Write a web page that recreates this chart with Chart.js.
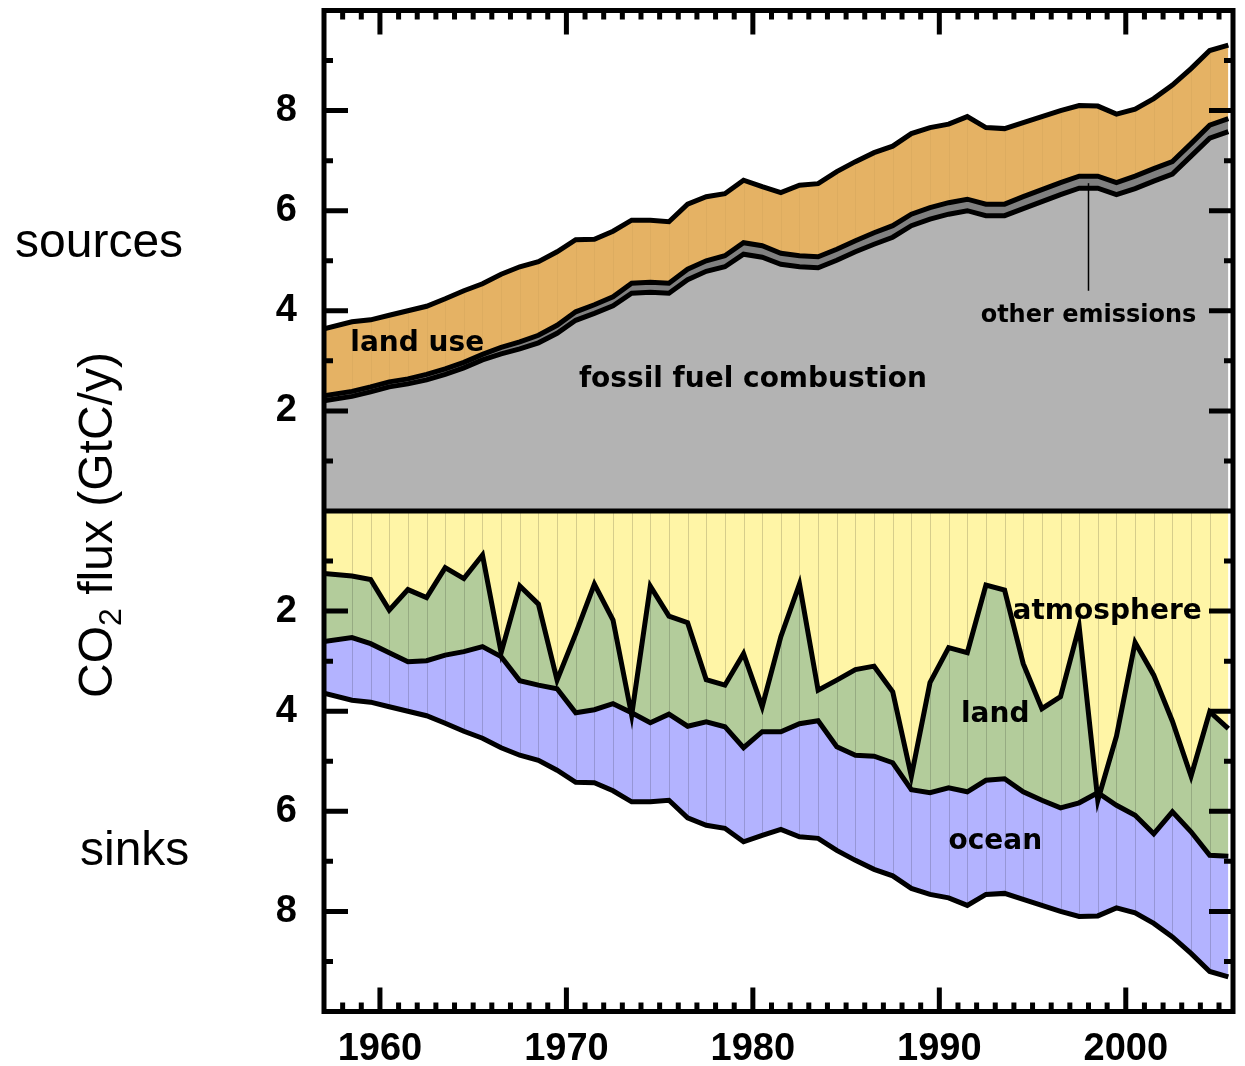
<!DOCTYPE html>
<html>
<head>
<meta charset="utf-8">
<script src="https://cdn.jsdelivr.net/npm/chart.js@4.4.1/dist/chart.umd.min.js"></script>
<style>
  html, body { margin: 0; padding: 0; background: #fff; }
  #wrap { width: 1245px; height: 1066px; }
</style>
</head>
<body>
<div id="wrap"><canvas id="flux"></canvas></div>
<script>
// Annual global CO2 budget, GtC per year
const years = [1957,1958,1959,1960,1961,1962,1963,1964,1965,1966,1967,1968,1969,1970,1971,1972,1973,1974,1975,1976,1977,1978,1979,1980,1981,1982,1983,1984,1985,1986,1987,1988,1989,1990,1991,1992,1993,1994,1995,1996,1997,1998,1999,2000,2001,2002,2003,2004,2005];

// sources
const fossilFuel = [2.20,2.29,2.38,2.48,2.54,2.62,2.73,2.86,3.02,3.14,3.24,3.36,3.55,3.81,3.95,4.10,4.35,4.37,4.35,4.62,4.79,4.88,5.13,5.07,4.93,4.88,4.86,5.01,5.18,5.33,5.47,5.70,5.83,5.93,6.00,5.90,5.90,6.04,6.18,6.32,6.45,6.45,6.32,6.44,6.59,6.73,7.09,7.45,7.58];
const otherEmissions = [0.10,0.10,0.10,0.10,0.10,0.11,0.11,0.11,0.11,0.13,0.14,0.15,0.16,0.17,0.17,0.18,0.20,0.20,0.20,0.21,0.21,0.22,0.23,0.23,0.22,0.22,0.22,0.22,0.22,0.23,0.23,0.23,0.23,0.23,0.23,0.23,0.23,0.24,0.24,0.24,0.24,0.24,0.24,0.25,0.25,0.25,0.25,0.26,0.26];
const landUse = [1.34,1.39,1.34,1.33,1.36,1.36,1.40,1.43,1.41,1.46,1.50,1.47,1.47,1.44,1.31,1.31,1.26,1.24,1.23,1.30,1.28,1.24,1.25,1.18,1.21,1.41,1.46,1.55,1.58,1.60,1.59,1.61,1.60,1.57,1.65,1.53,1.51,1.48,1.46,1.44,1.41,1.40,1.37,1.34,1.40,1.53,1.50,1.49,1.47];

// sinks
const atmosphere = [1.25,1.30,1.37,1.98,1.57,1.73,1.13,1.35,0.88,2.83,1.50,1.86,3.38,2.45,1.46,2.18,4.08,1.50,2.10,2.23,3.37,3.48,2.85,3.91,2.51,1.46,3.58,3.38,3.17,3.10,3.61,5.30,3.43,2.73,2.83,1.48,1.58,3.05,3.95,3.71,2.31,5.78,4.50,2.63,3.28,4.20,5.30,4.01,4.35];
const landSink = [1.36,1.23,1.28,0.85,1.44,1.26,1.75,1.46,1.83,0.08,1.89,1.62,0.17,1.58,2.51,1.67,-0.05,2.73,1.96,2.07,0.84,0.83,1.88,0.50,1.90,2.79,0.61,1.33,1.71,1.80,1.42,0.27,2.20,2.80,2.78,3.90,3.77,2.56,1.83,2.22,3.52,-0.15,1.38,3.45,3.17,1.81,1.11,2.87,2.55];
const oceanSink = [1.03,1.25,1.17,1.08,0.99,1.10,1.36,1.59,1.83,1.82,1.49,1.50,1.63,1.39,1.46,1.74,1.78,1.58,1.72,1.83,2.07,2.03,1.88,2.07,1.95,2.26,2.35,2.07,2.10,2.26,2.26,1.97,2.03,2.20,2.27,2.28,2.29,2.15,2.10,2.07,2.27,2.46,2.05,1.95,1.79,2.50,2.43,2.32,2.41];

// axis ticks
const xTickYears = [1960, 1970, 1980, 1990, 2000];
const yTickValues = [-8, -6, -4, -2, 2, 4, 6, 8];

const X_MIN = 1957, X_MAX = 2005.75, Y_MIN = -10, Y_MAX = 10;

// Yearly values sit at mid-year; the first one is pinned to the start of the axis.
const xPos = years.map((yr, i) => (i === 0 ? X_MIN : yr + 0.5));

function stack(...series) {
  return years.map((_, i) => series.reduce((s, a) => s + a[i], 0));
}
const pts = (vals, sign = 1) => vals.map((v, i) => ({ x: xPos[i], y: sign * v }));

const srcFossil = stack(fossilFuel);
const srcOther = stack(fossilFuel, otherEmissions);
const srcTotal = stack(fossilFuel, otherEmissions, landUse);
const snkAtm = stack(atmosphere);
const snkLand = stack(atmosphere, landSink);
const snkOcean = stack(atmosphere, landSink, oceanSink);

const SANS = "'Liberation Sans', Arial, Helvetica, sans-serif";
const LABEL_FONT = "'DejaVu Sans', Verdana, sans-serif";

const lineStyle = {
  borderColor: '#000',
  borderWidth: 5,
  pointRadius: 0,
  tension: 0,
  borderJoinStyle: 'miter'
};

const datasets = [
  { label: 'fossil fuel combustion', data: pts(srcFossil), fill: 'origin', backgroundColor: '#b3b3b3', ...lineStyle },
  { label: 'other emissions', data: pts(srcOther), fill: '-1', backgroundColor: '#808080', ...lineStyle },
  { label: 'land use', data: pts(srcTotal), fill: '-1', backgroundColor: '#e5b264', ...lineStyle },
  { label: 'atmosphere', data: pts(snkAtm, -1), fill: 'origin', backgroundColor: '#fff5a6', ...lineStyle },
  { label: 'land', data: pts(snkLand, -1), fill: '-1', backgroundColor: '#b3cc9b', ...lineStyle },
  { label: 'ocean', data: pts(snkOcean, -1), fill: '-1', backgroundColor: '#b3b3ff', ...lineStyle }
];

// text placed inside the plot, in data units (x = year, y = flux at the baseline)
const plotLabels = [
  { text: 'land use', x: 1962.0, y: 3.2, size: 28 },
  { text: 'fossil fuel combustion', x: 1980.0, y: 2.48, size: 28 },
  { text: 'other emissions', x: 1998.0, y: 3.78, size: 24 },
  { text: 'atmosphere', x: 1999.0, y: -2.15, size: 28 },
  { text: 'land', x: 1993.0, y: -4.21, size: 28 },
  { text: 'ocean', x: 1993.0, y: -6.75, size: 28 }
];
const leader = { x: 1998.0, from: 6.55, to: 4.4 };

const decorations = {
  id: 'decorations',
  beforeDatasetsDraw(chart) {
    // thin seams at every yearly vertex of the stacked bands
    const { ctx, chartArea: a, scales: { x, y } } = chart;
    ctx.save();
    ctx.beginPath();
    ctx.rect(a.left, a.top, a.width, a.height);
    ctx.clip();
    ctx.lineWidth = 1;
    const y0 = y.getPixelForValue(0);
    for (let i = 1; i < years.length - 1; i++) {
      const px = Math.round(x.getPixelForValue(xPos[i])) + 0.5;
      ctx.strokeStyle = 'rgba(0,0,0,0.16)';
      ctx.beginPath();
      ctx.moveTo(px, y0);
      ctx.lineTo(px, y.getPixelForValue(-snkOcean[i]));
      ctx.stroke();
      ctx.strokeStyle = 'rgba(0,0,0,0.03)';
      ctx.beginPath();
      ctx.moveTo(px, y.getPixelForValue(srcOther[i]));
      ctx.lineTo(px, y.getPixelForValue(srcTotal[i]));
      ctx.stroke();
    }
    ctx.restore();
  },
  afterDatasetsDraw(chart) {
    const { ctx, chartArea: a, scales: { x, y } } = chart;
    ctx.save();
    ctx.strokeStyle = '#000';
    ctx.fillStyle = '#000';
    ctx.lineCap = 'butt';

    // zero line between sources and sinks
    ctx.lineWidth = 5;
    const y0 = y.getPixelForValue(0);
    ctx.beginPath();
    ctx.moveTo(a.left, y0);
    ctx.lineTo(a.right, y0);
    ctx.stroke();

    // inward tick marks on all four sides
    const MAJOR = 24, MINOR = 9;
    for (let yr = Math.ceil(X_MIN) + 1; yr <= Math.floor(X_MAX); yr++) {
      const px = x.getPixelForValue(yr);
      const len = yr % 10 === 0 ? MAJOR : MINOR;
      ctx.beginPath();
      ctx.moveTo(px, a.top); ctx.lineTo(px, a.top + len);
      ctx.moveTo(px, a.bottom); ctx.lineTo(px, a.bottom - len);
      ctx.stroke();
    }
    for (let v = Y_MIN + 1; v < Y_MAX; v++) {
      if (v === 0) continue;
      const py = y.getPixelForValue(v);
      const len = v % 2 === 0 ? MAJOR : MINOR;
      ctx.beginPath();
      ctx.moveTo(a.left, py); ctx.lineTo(a.left + len, py);
      ctx.moveTo(a.right, py); ctx.lineTo(a.right - len, py);
      ctx.stroke();
    }

    // frame
    ctx.lineWidth = 5;
    ctx.strokeRect(a.left, a.top, a.width, a.height);

    // leader line to the thin "other emissions" band
    ctx.lineWidth = 1.5;
    const lx = x.getPixelForValue(leader.x);
    ctx.beginPath();
    ctx.moveTo(lx, y.getPixelForValue(leader.from));
    ctx.lineTo(lx, y.getPixelForValue(leader.to));
    ctx.stroke();

    // band labels
    ctx.textAlign = 'center';
    ctx.textBaseline = 'alphabetic';
    for (const l of plotLabels) {
      ctx.font = `bold ${l.size}px ${LABEL_FONT}`;
      ctx.fillText(l.text, x.getPixelForValue(l.x), y.getPixelForValue(l.y));
    }
    ctx.restore();
  },
  afterDraw(chart) {
    const { ctx } = chart;
    ctx.save();
    ctx.fillStyle = '#000';
    ctx.textBaseline = 'alphabetic';
    ctx.textAlign = 'left';
    ctx.font = `48px ${SANS}`;
    ctx.fillText('sources', 15, 257);
    ctx.fillText('sinks', 80, 865);

    // rotated axis title with subscript
    ctx.translate(112, 525);
    ctx.rotate(-Math.PI / 2);
    const big = `48px ${SANS}`, small = `32px ${SANS}`;
    ctx.font = big; const w1 = ctx.measureText('CO').width;
    ctx.font = small; const w2 = ctx.measureText('2').width;
    ctx.font = big; const w3 = ctx.measureText(' flux (GtC/y)').width;
    let cx = -(w1 + w2 + w3) / 2;
    ctx.font = big; ctx.fillText('CO', cx, 0); cx += w1;
    ctx.font = small; ctx.fillText('2', cx, 9); cx += w2;
    ctx.font = big; ctx.fillText(' flux (GtC/y)', cx, 0);
    ctx.restore();
  }
};

new Chart(document.getElementById('flux'), {
  type: 'line',
  data: { datasets },
  options: {
    responsive: true,
    maintainAspectRatio: false,
    animation: false,
    events: [],
    layout: { padding: { top: 10.5, right: 12, left: 0, bottom: 0 } },
    plugins: {
      legend: { display: false },
      tooltip: { enabled: false },
      filler: { drawTime: 'beforeDatasetsDraw' }
    },
    scales: {
      x: {
        type: 'linear',
        min: X_MIN,
        max: X_MAX,
        grid: { display: false, drawTicks: false },
        border: { display: false },
        afterBuildTicks: s => { s.ticks = xTickYears.map(v => ({ value: v })); },
        afterFit: s => { s.height = 54.5; s.paddingLeft = 0; s.paddingRight = 0; },
        ticks: {
          autoSkip: false,
          maxRotation: 0,
          padding: 15,
          color: '#000',
          font: { family: SANS, size: 38, weight: 'bold' },
          callback: v => String(v)
        }
      },
      y: {
        type: 'linear',
        min: Y_MIN,
        max: Y_MAX,
        grid: { display: false, drawTicks: false },
        border: { display: false },
        afterBuildTicks: s => { s.ticks = yTickValues.map(v => ({ value: v })); },
        afterFit: s => { s.width = 324; s.paddingTop = 0; s.paddingBottom = 0; },
        ticks: {
          autoSkip: false,
          padding: 27,
          color: '#000',
          font: { family: SANS, size: 38, weight: 'bold' },
          callback: v => String(Math.abs(v))
        }
      }
    }
  },
  plugins: [decorations]
});
</script>
</body>
</html>
